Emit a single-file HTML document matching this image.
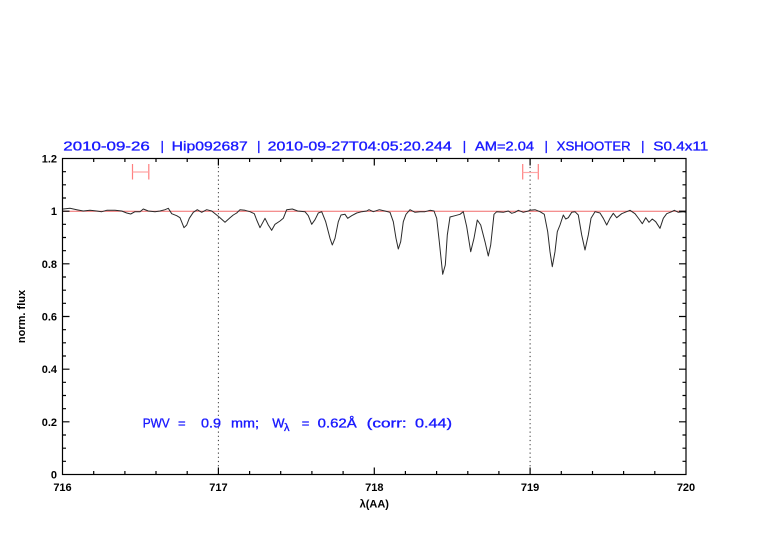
<!DOCTYPE html>
<html>
<head>
<meta charset="utf-8">
<style>
  html, body { margin:0; padding:0; background:#ffffff; }
  svg { display:block; }
  .t { font-family:"Liberation Sans", sans-serif; }
</style>
</head>
<body>
<svg width="782" height="542" viewBox="0 0 782 542" xmlns="http://www.w3.org/2000/svg">
  <rect x="0" y="0" width="782" height="542" fill="#ffffff"/>

  <!-- Title -->
  <g class="t" font-size="13" fill="#1a1aff" stroke="#1a1aff" stroke-width="0.35">
    <text x="63.3" y="150.3" textLength="86.5" lengthAdjust="spacingAndGlyphs">2010-09-26</text>
    <text x="160.5" y="150.3">|</text>
    <text x="171.7" y="150.3" textLength="76" lengthAdjust="spacingAndGlyphs">Hip092687</text>
    <text x="257.1" y="150.3">|</text>
    <text x="267.7" y="150.3" textLength="184" lengthAdjust="spacingAndGlyphs">2010-09-27T04:05:20.244</text>
    <text x="462.8" y="150.3">|</text>
    <text x="475" y="150.3" textLength="59" lengthAdjust="spacingAndGlyphs">AM=2.04</text>
    <text x="544.5" y="150.3">|</text>
    <text x="556.7" y="150.3" textLength="74" lengthAdjust="spacingAndGlyphs">XSHOOTER</text>
    <text x="641.1" y="150.3">|</text>
    <text x="653.3" y="150.3" textLength="55" lengthAdjust="spacingAndGlyphs">S0.4x11</text>
  </g>

  <!-- Reference line at 1 -->
  <line x1="62.5" y1="211.2" x2="686" y2="211.2" stroke="#f06a6a" stroke-width="1"/>

  <!-- Dotted verticals -->
  <line x1="218.4" y1="158.5" x2="218.4" y2="474.5" stroke="#333" stroke-width="1" stroke-dasharray="1.2,3"/>
  <line x1="530.1" y1="158.5" x2="530.1" y2="474.5" stroke="#333" stroke-width="1" stroke-dasharray="1.2,3"/>

  <!-- Error bars -->
  <g stroke="#ff7f7f" stroke-width="1.2" fill="none">
    <line x1="132.5" y1="164" x2="132.5" y2="179.5"/>
    <line x1="148.8" y1="164" x2="148.8" y2="179.5"/>
    <line x1="132.5" y1="172" x2="148.8" y2="172" stroke="#ffa8a8"/>
    <line x1="522.7" y1="164" x2="522.7" y2="179.5"/>
    <line x1="538.3" y1="164" x2="538.3" y2="179.5"/>
    <line x1="522.7" y1="172.5" x2="538.3" y2="172.5" stroke="#ffa8a8"/>
  </g>

  <!-- Spectrum -->
  <polyline fill="none" stroke="#2a2a2a" stroke-width="1" stroke-linejoin="round" points="
62.5,209.2 63.3,209 70,208.3 76.7,209.7 83.3,211 90,210.3 96.7,211 101.7,211.7 106.7,210.3 115,210.3 121.7,211 126.7,213 130.7,214 135,211.7 140,211.7 143.3,209 148.3,211 155,211.7 160,211 165,209.7 168.3,208.3 171.7,213.7 176.7,215.7 180,217.7 184,227.7 186.7,225 189.3,218.3 193.3,212.3 197.3,209.7 201.7,212.3 206.7,209.7 211.7,211 216.7,215 220,217.7 225,222.3 230,217.7 233.3,215 236.7,213 240,209.7 245,210.3 250,211.7 254.3,213.7 256.7,220 260,227.7 265,218.3 268.3,225 271.7,230.3 275,224.3 280,221 283.3,218.3 286.7,209.7 292.3,209 297.7,211 305,211.7 308.3,215.7 311.7,224.3 315,219.7 318.3,213 321.7,211.7 325.7,221.7 330,238.3 332.3,245 335,238.3 338.3,221.7 341,215 345,214.3 347.7,218.3 351.7,215.7 356.7,213 361.7,211.7 366.7,211 369,209.7 373.3,211.7 379.3,209.7 385,211 390,212.3 393.3,221.7 396,238.3 398.3,249 400.7,241.7 403.3,221.7 406,214.3 410,209.7 415,212.3 420,211.7 425,211.7 430,210.3 434,211 436.7,218.3 439.3,241.7 442.7,274.3 445.3,265 447.3,235 450,217 455,215.7 460,214.3 463.3,211.7 466.7,226.7 470.7,251.7 474,238.3 477.3,220 480.7,225 485,241.7 488.3,256 490.7,245 494,214.3 496.7,211.7 503.3,212.3 508.3,211 511.7,213.3 515,212.3 518.3,210.3 523.3,212.3 528.3,211 530,210.3 535,209.7 540,211.7 544.3,214.3 547.7,231.7 550,251.7 552.3,266.7 555,251.7 557.3,231.7 560,225 563.3,215 565.7,219 568.3,217.7 571.7,212.3 575,211.7 578.3,215 581.7,235 585,250 588.3,235 591,218.3 595,211.7 600,213 603.3,218.3 606.7,225 610,218.3 613.3,213.3 616.7,217.7 621.7,213.7 625,212.3 630,210.3 635,213.7 639,219 642.3,223.7 645.7,217.7 649,222.3 652.3,219 655.7,221.7 660,228.3 663.3,218.3 666.7,213.7 671.7,211.7 674.3,210.3 678.3,212.3 683.3,211.7 686,212.3"/>

  <!-- Frame -->
  <rect x="62.5" y="158.5" width="623.5" height="316" fill="none" stroke="#000" stroke-width="1.2"/>

  <!-- X ticks bottom & top -->
  <g stroke="#000" stroke-width="1.2">
    <!-- major -->
    <path d="M218.4,474.5v-7 M374.3,474.5v-7 M530.1,474.5v-7
             M218.4,158.5v7 M374.3,158.5v7 M530.1,158.5v7"/>
    <!-- minor bottom -->
    <path d="M93.7,474.5v-3.5 M124.9,474.5v-3.5 M156,474.5v-3.5 M187.2,474.5v-3.5
             M249.6,474.5v-3.5 M280.7,474.5v-3.5 M311.9,474.5v-3.5 M343.1,474.5v-3.5
             M405.4,474.5v-3.5 M436.6,474.5v-3.5 M467.8,474.5v-3.5 M498.9,474.5v-3.5
             M561.3,474.5v-3.5 M592.5,474.5v-3.5 M623.6,474.5v-3.5 M654.8,474.5v-3.5"/>
    <!-- minor top -->
    <path d="M93.7,158.5v3.5 M124.9,158.5v3.5 M156,158.5v3.5 M187.2,158.5v3.5
             M249.6,158.5v3.5 M280.7,158.5v3.5 M311.9,158.5v3.5 M343.1,158.5v3.5
             M405.4,158.5v3.5 M436.6,158.5v3.5 M467.8,158.5v3.5 M498.9,158.5v3.5
             M561.3,158.5v3.5 M592.5,158.5v3.5 M623.6,158.5v3.5 M654.8,158.5v3.5"/>
  </g>

  <!-- Y ticks left & right -->
  <g stroke="#000" stroke-width="1.2">
    <!-- major -->
    <path d="M62.5,421.8h7 M62.5,369.2h7 M62.5,316.5h7 M62.5,263.8h7 M62.5,211.2h7
             M686,421.8h-7 M686,369.2h-7 M686,316.5h-7 M686,263.8h-7 M686,211.2h-7"/>
    <!-- minor left -->
    <path d="M62.5,461.3h3.5 M62.5,448.2h3.5 M62.5,435h3.5
             M62.5,408.7h3.5 M62.5,395.5h3.5 M62.5,382.3h3.5
             M62.5,356h3.5 M62.5,342.8h3.5 M62.5,329.7h3.5
             M62.5,303.3h3.5 M62.5,290.2h3.5 M62.5,277h3.5
             M62.5,250.7h3.5 M62.5,237.5h3.5 M62.5,224.3h3.5
             M62.5,198h3.5 M62.5,184.8h3.5 M62.5,171.7h3.5"/>
    <!-- minor right -->
    <path d="M686,461.3h-3.5 M686,448.2h-3.5 M686,435h-3.5
             M686,408.7h-3.5 M686,395.5h-3.5 M686,382.3h-3.5
             M686,356h-3.5 M686,342.8h-3.5 M686,329.7h-3.5
             M686,303.3h-3.5 M686,290.2h-3.5 M686,277h-3.5
             M686,250.7h-3.5 M686,237.5h-3.5 M686,224.3h-3.5
             M686,198h-3.5 M686,184.8h-3.5 M686,171.7h-3.5"/>
  </g>

  <!-- Y tick labels -->
  <g class="t" font-size="11" font-weight="bold" fill="#000" text-anchor="end">
    <text x="57" y="478.5">0</text>
    <text x="57" y="425.8">0.2</text>
    <text x="57" y="373.2">0.4</text>
    <text x="57" y="320.5">0.6</text>
    <text x="57" y="267.8">0.8</text>
    <text x="57" y="215.2">1</text>
    <text x="57" y="162.5">1.2</text>
  </g>

  <!-- X tick labels -->
  <g class="t" font-size="11" font-weight="bold" fill="#000" text-anchor="middle">
    <text x="62.5" y="490.8">716</text>
    <text x="218.4" y="490.8">717</text>
    <text x="374.3" y="490.8">718</text>
    <text x="530.1" y="490.8">719</text>
    <text x="686" y="490.8">720</text>
  </g>

  <!-- Axis labels -->
  <text class="t" x="374.3" y="507.3" font-size="11" font-weight="bold" fill="#000" text-anchor="middle">λ(AA)</text>
  <text class="t" transform="translate(25,316.5) rotate(-90)" x="0" y="0" font-size="11" font-weight="bold" fill="#000" text-anchor="middle">norm. flux</text>

  <!-- PWV annotation -->
  <g class="t" font-size="13" fill="#1a1aff" stroke="#1a1aff" stroke-width="0.35">
    <text x="142.7" y="427.7" textLength="27" lengthAdjust="spacingAndGlyphs">PWV</text>
    <text x="178" y="427.7">=</text>
    <text x="201" y="427.7" textLength="20" lengthAdjust="spacingAndGlyphs">0.9</text>
    <text x="231" y="427.7" textLength="28" lengthAdjust="spacingAndGlyphs">mm;</text>
    <text x="272.3" y="427.7">W</text>
    <text x="284" y="431" font-size="11">λ</text>
    <text x="301.7" y="427.7">=</text>
    <text x="317.7" y="427.7" textLength="39" lengthAdjust="spacingAndGlyphs">0.62Å</text>
    <text x="366.7" y="427.7" textLength="40" lengthAdjust="spacingAndGlyphs">(corr:</text>
    <text x="415" y="427.7" textLength="37" lengthAdjust="spacingAndGlyphs">0.44)</text>
  </g>
</svg>
</body>
</html>
